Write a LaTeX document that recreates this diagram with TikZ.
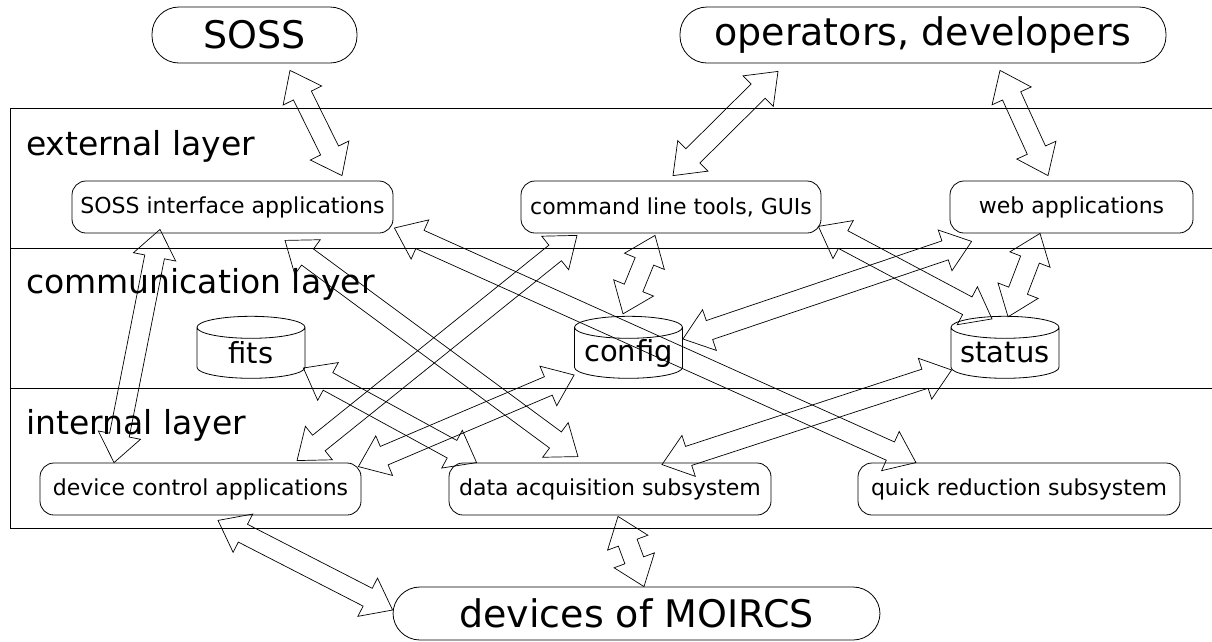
\documentclass[tikz,border=0pt]{standalone}
\usepackage{fontspec}
\setmainfont{DejaVu Sans}
\usetikzlibrary{shapes.geometric,calc}

\tikzset{
  bigbox/.style={draw, line width=0.8pt, rounded corners=27pt, inner sep=0pt, font=\fontsize{38}{40}\selectfont},
  appbox/.style={draw, line width=0.8pt, rounded corners=14pt, inner sep=0pt, minimum height=52pt, font=\fontsize{22}{24}\selectfont},
  store/.style={draw, line width=0.8pt, cylinder, shape border rotate=90, aspect=0.5, inner sep=0pt,
    minimum width=108pt, minimum height=62pt, font=\fontsize{29}{31}\selectfont},
  layername/.style={anchor=base west, inner sep=0pt, font=\fontsize{33}{35}\selectfont},
  layerline/.style={line width=1pt},
  arrowline/.style={line width=0.7pt, line join=miter}
}

% hollow arrow with a head at both ends
\newcommand{\link}[2]{%
  \draw[arrowline] let \p1=(#1), \p2=(#2),
      \n1={atan2(\y2-\y1,\x2-\x1)}, \n2={veclen(\x2-\x1,\y2-\y1)} in
    [shift={(\p1)}, rotate=\n1]
    (0pt,0pt) -- (28pt,21.5pt) -- (28pt,10pt) -- (\n2-28pt,10pt) -- (\n2-28pt,21.5pt) -- (\n2,0pt)
    -- (\n2-28pt,-21.5pt) -- (\n2-28pt,-10pt) -- (28pt,-10pt) -- (28pt,-21.5pt) -- cycle;}
% label of a data store, kept narrow so every store gets the same size
\newcommand{\storetext}[1]{\makebox[44pt]{#1}}

\begin{document}
\begin{tikzpicture}[x=1pt,y=-1pt]
  \useasboundingbox (0,0) rectangle (1212,641);

  % layers
  \draw[layerline] (1212,108) -- (10,108) -- (10,528) -- (1212,528);
  \draw[layerline] (10,248) -- (1212,248);
  \draw[layerline] (10,388) -- (1212,388);
  \node[layername] (ext) at (26,155) {external layer};
  \node[layername] (comm) at (26,293) {communication layer};
  \node[layername] (int) at (26,434) {internal layer};

  % outside
  \node[bigbox, minimum width=205pt, minimum height=56pt] (soss) at (254.5,35) {SOSS};
  \node[bigbox, minimum width=486pt, minimum height=56pt] (ops) at (923,35) {operators, developers};
  \node[bigbox, minimum width=487pt, minimum height=53pt] (moircs) at (636.5,613.5) {devices of MOIRCS};

  % inside
  \node[appbox, minimum width=321pt] (sossif) at (232.5,207) {SOSS interface applications};
  \node[appbox, minimum width=300pt] (cmd) at (671,207) {command line tools, GUIs};
  \node[appbox, minimum width=243pt] (web) at (1071.5,207) {web applications};
  \node[store] (fits) at (251,353) {\storetext{fits}};
  \node[store] (config) at (628.5,353) {\storetext{config}};
  \node[store] (status) at (1005,353) {\storetext{status}};
  \node[appbox, minimum width=321pt] (dev) at (200.5,489) {device control applications};
  \node[appbox, minimum width=322pt] (daq) at (610,489) {data acquisition subsystem};
  \node[appbox, minimum width=322pt] (qr) at (1019,489) {quick reduction subsystem};

  \link{[xshift=35.5pt,yshift=-7pt]soss.south}{[xshift=109.5pt,yshift=5pt]sossif.north}
  \link{[xshift=-145pt,yshift=-8pt]ops.south}{[xshift=2pt,yshift=5pt]cmd.north}
  \link{[xshift=77pt,yshift=-7pt]ops.south}{[xshift=-23.5pt,yshift=5pt]web.north}
  \link{[xshift=-72.5pt,yshift=4pt]sossif.south}{[xshift=-86.5pt]dev.north}
  \link{[xshift=52.5pt,yshift=-7pt]sossif.south}{[xshift=-32pt,yshift=6pt]daq.north}
  \link{[xshift=1pt,yshift=-21pt]sossif.east}{[xshift=-103pt]qr.north}
  \link{[xshift=-94pt,yshift=-2pt]cmd.south}{[xshift=96.5pt,yshift=2pt]dev.north}
  \link{[xshift=-16pt,yshift=-2pt]cmd.south}{[xshift=-5.5pt,yshift=2pt]config.north}
  \link{[xshift=-3pt,yshift=7pt]cmd.south east}{[xshift=-13pt,yshift=-3pt]status.north}
  \link{[xshift=22pt,yshift=-8pt]web.south west}{[yshift=14pt]config.east}
  \link{[xshift=-31.5pt]web.south}{[xshift=3pt,yshift=-1pt]status.north}
  \link{[xshift=-2pt,yshift=-15pt]fits.east}{[xshift=28pt]daq.north west}
  \link{[yshift=-22pt]config.west}{[xshift=-3pt,yshift=-4pt]dev.north east}
  \link{[xshift=1pt,yshift=-17pt]status.west}{[xshift=52pt,yshift=-2pt]daq.north}
  \link{[xshift=17.5pt,yshift=-5pt]dev.south}{[yshift=3.5pt]moircs.west}
  \link{[xshift=8pt,yshift=-1pt]daq.south}{[xshift=7.5pt]moircs.north}
\end{tikzpicture}
\end{document}
